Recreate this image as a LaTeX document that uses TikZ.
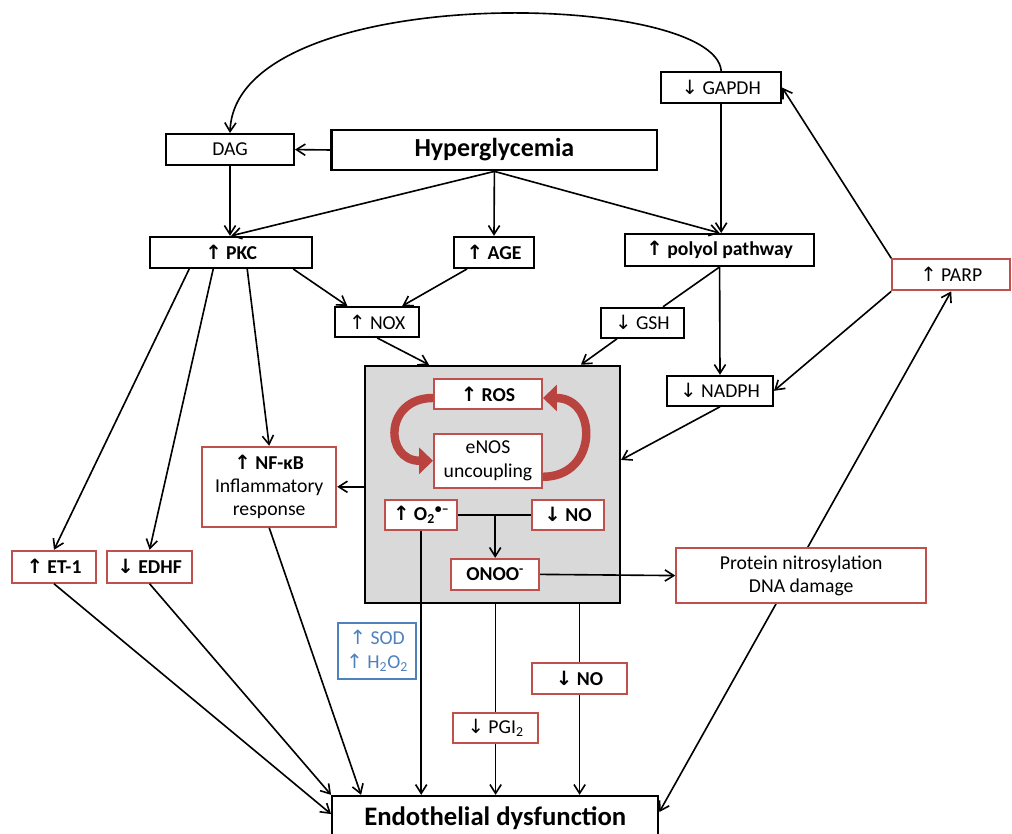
\documentclass[tikz,border=0pt]{standalone}
\usepackage{fontspec}
\setmainfont{Carlito}
\newfontfamily\arrowfont{DejaVu Sans}
\usetikzlibrary{arrows.meta,calc,backgrounds}
\definecolor{dfRed}{HTML}{C0504D}
\definecolor{dfRibbon}{HTML}{B8433F}
\definecolor{dfBlue}{HTML}{4F81BD}
\definecolor{dfGrey}{HTML}{D9D9D9}
\newcommand{\upar}{{\arrowfont ↑}}
\newcommand{\dnar}{{\arrowfont ↓}}

\begin{document}
\begin{tikzpicture}[
    font=\fontsize{14}{16.5}\selectfont,
    >={Straight Barb[length=2.2mm,width=2.8mm]},
    blk/.style={draw=#1, line width=1.4pt, fill=white, inner sep=2pt, align=center},
    blk/.default=black,
    arr/.style={->, line width=1.15pt},
    lnk/.style={line width=1.15pt},
    ribbon/.style={line width=6pt, draw=dfRibbon, -{Triangle[length=3.5mm,width=6.5mm]}},
  ]
  \useasboundingbox (0,0) rectangle (25.3,20.85);
  % grey box
  \node[draw, line width=1.5pt, fill=dfGrey, minimum width=6.38cm, minimum height=5.93cm] (stress) at (12.31,8.74) {};
  % top row
  \node[blk, line width=2pt, minimum width=8.13cm, minimum height=1cm,
        font=\bfseries\fontsize{18.5}{22}\selectfont] (hyper) at (12.36,17.10) {Hyperglycemia};
  \node[blk, minimum width=3.2cm, minimum height=0.78cm]  (dag)    at (5.75,17.11)  {DAG};
  \node[blk, minimum width=3.0cm, minimum height=0.78cm]  (gapdh)  at (18.03,18.66) {\dnar{} GAPDH};
  % pathways
  \node[blk, minimum width=4.05cm, minimum height=0.78cm] (pkc)    at (5.78,14.54)  {\textbf{\upar{} PKC}};
  \node[blk, minimum width=2.0cm, minimum height=0.78cm]  (age)    at (12.35,14.54) {\textbf{\upar{} AGE}};
  \node[blk, minimum width=4.73cm, minimum height=0.8cm]  (polyol) at (17.99,14.6)  {\textbf{\upar{} polyol pathway}};
  \node[blk=dfRed, minimum width=2.95cm, minimum height=0.78cm] (parp) at (23.78,13.98) {\upar{} PARP};
  \node[blk, minimum width=2.1cm, minimum height=0.75cm]  (nox)    at (9.43,12.8)   {\upar{} NOX};
  \node[blk, minimum width=2.08cm, minimum height=0.75cm] (gsh)    at (16.06,12.78) {\dnar{} GSH};
  \node[blk, minimum width=2.65cm, minimum height=0.75cm] (nadph)  at (18.0,11.08)  {\dnar{} NADPH};
  % inside the grey box
  \node[blk=dfRed, minimum width=2.7cm, minimum height=0.75cm] (ros)  at (12.2,11.0)  {\textbf{\upar{} ROS}};
  \node[blk=dfRed, minimum width=2.7cm, minimum height=1.35cm] (enos) at (12.2,9.33)  {eNOS\\uncoupling};
  \node[blk=dfRed, minimum width=1.8cm, minimum height=0.75cm] (o2)   at (10.53,7.98) {\textbf{\upar{} O\textsubscript{2}\textsuperscript{•–}}};
  \node[blk=dfRed, minimum width=1.8cm, minimum height=0.75cm] (noin) at (14.2,7.98)  {\textbf{\dnar{} NO}};
  \node[blk=dfRed, minimum width=2.2cm, minimum height=0.78cm] (onoo) at (12.38,6.49) {\textbf{ONOO\textsuperscript{-}}};
  % effects
  \node[blk=dfRed, minimum width=3.35cm, minimum height=2.0cm] (nfkb) at (6.73,8.68)  {\textbf{\upar{} NF-κB}\\Inflammatory\\response};
  \node[blk=dfRed, minimum width=2.1cm, minimum height=0.8cm]  (et1)  at (1.35,6.68)  {\textbf{\upar{} ET-1}};
  \node[blk=dfRed, minimum width=2.13cm, minimum height=0.8cm] (edhf) at (3.74,6.68)  {\textbf{\dnar{} EDHF}};
  \node[blk=dfRed, minimum width=6.25cm, minimum height=1.38cm] (prot) at (20.03,6.46) {Protein nitrosylation\\DNA damage};
  \node[blk=dfBlue, text=dfBlue, minimum width=1.95cm, minimum height=1.4cm] (sod) at (9.43,4.58) {\upar{} SOD\\\upar{} H\textsubscript{2}O\textsubscript{2}};
  \node[blk=dfRed, minimum width=2.38cm, minimum height=0.78cm] (nolow) at (14.49,3.89) {\textbf{\dnar{} NO}};
  \node[blk=dfRed, minimum width=2.13cm, minimum height=0.75cm] (pgi)   at (12.39,2.65) {\dnar{} PGI\textsubscript{2}};
  \node[blk, line width=1.6pt, minimum width=8.15cm, minimum height=1.1cm,
        font=\bfseries\fontsize{19}{22}\selectfont] (endo) at (12.38,0.4) {Endothelial dysfunction};
  % arrows, top
  \draw[arr] (hyper.west) -- (dag.east);
  \draw[arr] (hyper.south) -- (pkc.north);
  \draw[arr] (hyper.south) -- (age.north);
  \draw[arr] (hyper.south) -- (polyol.north);
  \draw[arr] (dag.south) -- (dag.south |- pkc.north);
  \draw[arr] (gapdh.south) -- (gapdh.south |- polyol.north);
  \draw[arr] (gapdh.north) .. controls (17.88,21.1) and (5.88,21.35) .. (dag.north);
  \draw[arr] (parp.north west) -- (gapdh.east);
  \draw[arr] (parp.south west) -- (nadph.east);
  \begin{pgfonlayer}{background}
    \draw[arr, <->] ($(endo.north east)+(0,-0.43)$) -- (parp.south);
  \end{pgfonlayer}
  % arrows, PKC fan
  \draw[arr] ($(pkc.south west)+(1.0,0)$)  -- (et1.north);
  \draw[arr] ($(pkc.south west)+(1.6,0)$)  -- (edhf.north);
  \draw[arr] ($(pkc.south west)+(2.45,0)$) -- (nfkb.north);
  \draw[arr] ($(pkc.south west)+(3.6,0)$)  -- ($(nox.north west)+(0.33,0)$);
  \draw[arr] ($(age.south west)+(0.35,0)$) -- ($(nox.north west)+(1.7,0)$);
  \draw[arr] (nox.south) -- ($(stress.north west)+(1.63,0)$);
  \draw[lnk] (polyol.south) -- ($(gsh.north east)+(-0.55,0)$);
  \draw[arr] ($(gsh.south west)+(0.43,0)$) -- ($(stress.north west)+(5.43,0)$);
  \draw[arr] (polyol.south) -- (nadph.north);
  \draw[arr] (nadph.south) -- ($(stress.north east)+(0,-2.38)$);
  \draw[arr] (stress.west |- nfkb.east) -- (nfkb.east);
  % ROS cycle
  \draw[ribbon] ($(ros.west)+(0,-0.1)$) to[out=180,in=180,looseness=2] (enos.west);
  \draw[ribbon] ($(enos.east)+(0,-0.4)$) to[out=0,in=0,looseness=1.8] ($(ros.east)+(0,-0.1)$);
  \draw[lnk] (o2.east) -- (noin.west);
  \draw[arr] (onoo.north |- o2.east) -- (onoo.north);
  \draw[arr] (onoo.east) -- (prot.west);
  % arrows, bottom
  \draw[arr] (o2.south) -- (o2.south |- endo.north);
  \draw[lnk] (pgi.north |- stress.south) -- (pgi.north);
  \draw[arr] (pgi.south) -- (pgi.south |- endo.north);
  \draw[lnk] (nolow.north |- stress.south) -- (nolow.north);
  \draw[arr] (nolow.south) -- (nolow.south |- endo.north);
  \draw[arr] (et1.south) -- ($(endo.north west)+(0,-0.48)$);
  \draw[arr] (edhf.south) -- (endo.north west);
  \draw[arr] (nfkb.south) -- ($(endo.north west)+(0.75,0)$);
\end{tikzpicture}
\end{document}
